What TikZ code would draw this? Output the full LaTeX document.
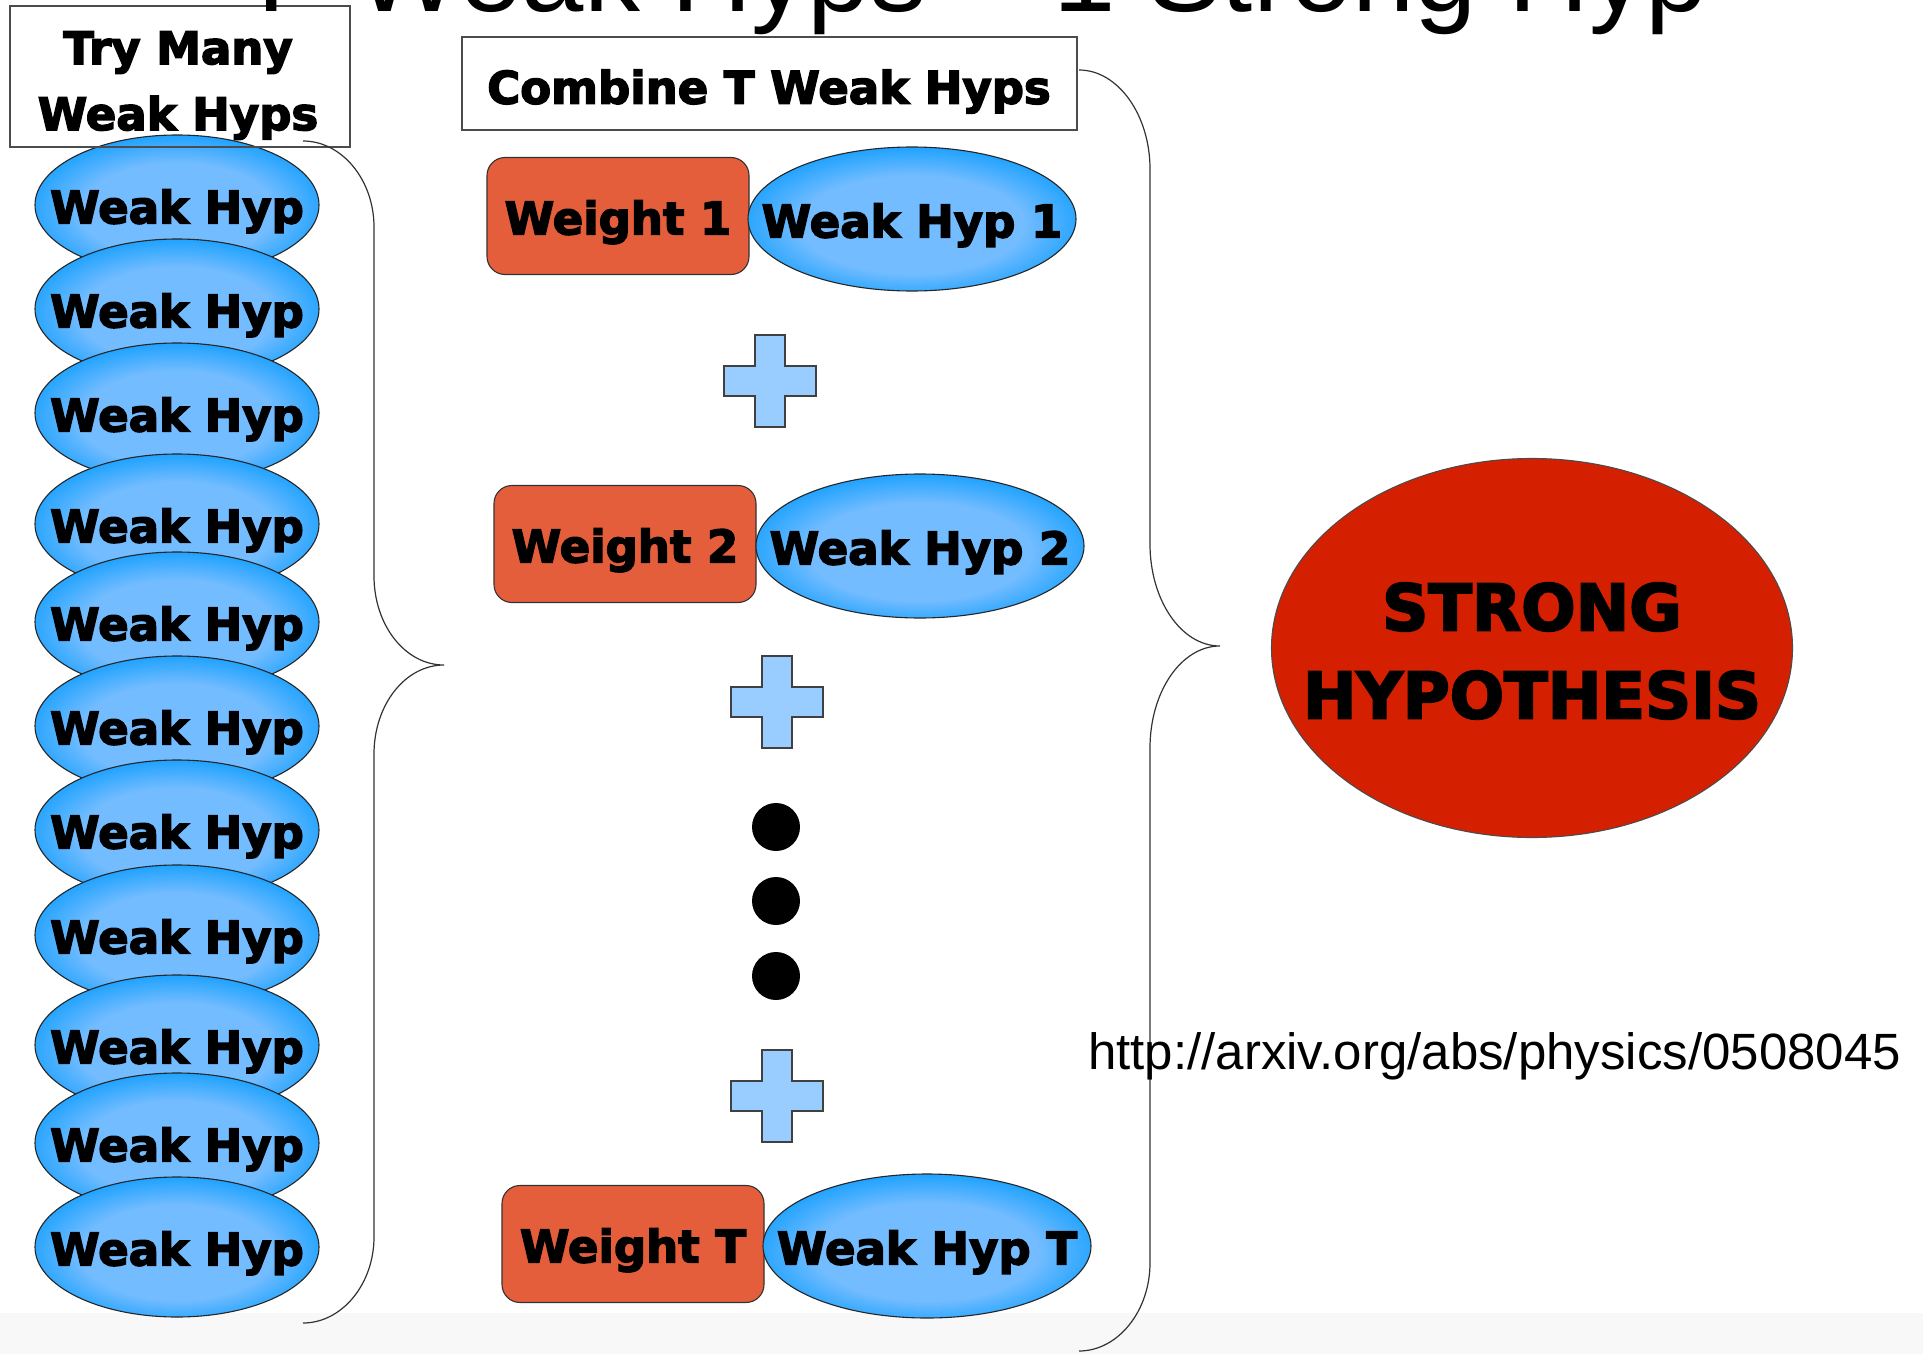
\documentclass[tikz,border=0pt]{standalone}
\usepackage{fontspec}
\setmainfont{Liberation Sans}
\newfontfamily\heavy{DejaVu Sans}[BoldFeatures={FakeBold=3.2}]
\usetikzlibrary{shapes.geometric}
\definecolor{hypblue}{RGB}{0,153,255}
\definecolor{hyplight}{RGB}{115,188,255}
\definecolor{wtred}{RGB}{229,94,59}
\definecolor{strongred}{RGB}{212,32,0}
\definecolor{plusblue}{RGB}{153,204,255}
\definecolor{bandgray}{RGB}{248,248,248}
\pgfdeclareradialshading{hypglow}{\pgfpoint{0bp}{-3bp}}{color(0bp)=(hyplight); color(17bp)=(hyplight); color(30bp)=(hypblue); color(50bp)=(hypblue)}
\newcommand\hypfont{\heavy\bfseries\fontsize{45}{66}\selectfont}
\newcommand\ctext[1]{\makebox[0pt]{\raisebox{-0.41em}[0pt][0pt]{#1}}}
\tikzset{
  lefthyp/.style={ellipse, draw=black!85, line width=1.1pt, shading=hypglow,
    minimum width=284pt, minimum height=140pt, inner sep=0pt, font=\hypfont},
  midhyp/.style={ellipse, draw=black!85, line width=1.1pt, shading=hypglow,
    minimum width=328pt, minimum height=144pt, inner sep=0pt, font=\hypfont},
  weightbox/.style={rectangle, rounded corners=18pt, draw=black!80, line width=1.1pt,
    fill=wtred, minimum width=262pt, minimum height=117pt, inner sep=0pt, font=\hypfont},
  labelbox/.style={rectangle, draw=black!70, line width=1.2pt, inner sep=0pt},
  labeltext/.style={inner sep=0pt, align=center, font=\hypfont},
  bracepath/.style={draw=black!80, line width=1.2pt},
  dotmark/.style={fill=black},
  plussign/.pic={\path[draw=black!75, fill=plusblue, line width=1.2pt]
    (-46,-15) -- (-15,-15) -- (-15,-46) -- (15,-46) -- (15,-15) -- (46,-15)
    -- (46,15) -- (15,15) -- (15,46) -- (-15,46) -- (-15,15) -- (-46,15) -- cycle;}
}
\begin{document}
\begin{tikzpicture}[x=1pt,y=-1pt]
\useasboundingbox (0,0) rectangle (1923,1354);
\fill[white] (0,0) rectangle (1923,1354);
\fill[bandgray] (0,1313) rectangle (1923,1354);

% left column of weak hypotheses
\foreach \i/\yy in {1/205,2/309,3/413,4/524,5/622,6/726,7/830,8/935,9/1045,10/1143,11/1247}{
  \node[lefthyp] (L\i) at (177,\yy) {\ctext{Weak Hyp}};
}

% label boxes
\node[labelbox, minimum width=340pt, minimum height=141pt] (trybox) at (180,76.5) {};
\node[labeltext] (trytext) at (178,85.5) {Try Many\\Weak Hyps};
\node[labelbox, minimum width=615pt, minimum height=93pt] (combox) at (769.5,83.5) {};
\node[labeltext] (comtext) at (769,91.5) {Combine T Weak Hyps};

% title (cut off at the top)
\node[anchor=base west, inner sep=0pt, font=\fontsize{112}{112}\selectfont] (title) at (237,12) {T\hspace{19pt} Weak Hyps = 1 Strong Hyp};

% weighted weak hypotheses
\node[weightbox] (w1) at (618,216) {\ctext{Weight 1}};
\node[midhyp] (h1) at (912,219) {\ctext{Weak Hyp 1}};
\node[weightbox] (w2) at (625,544) {\ctext{Weight 2}};
\node[midhyp] (h2) at (920,546) {\ctext{Weak Hyp 2}};
\node[weightbox] (wT) at (633,1244) {\ctext{Weight T}};
\node[midhyp] (hT) at (927,1246) {\ctext{Weak Hyp T}};

% plus signs and dots
\pic (p1) at (770,381) {plussign};
\pic (p2) at (777,702) {plussign};
\pic (p3) at (777,1096) {plussign};
\fill[dotmark] (776,827) circle (24pt);
\fill[dotmark] (776,901) circle (24pt);
\fill[dotmark] (776,976) circle (24pt);

% braces
\coordinate (lb0) at (303,141);
\coordinate (lb1) at (374,227);
\coordinate (lb2) at (374,576);
\coordinate (lbt) at (444,665);
\coordinate (lb3) at (374,754);
\coordinate (lb4) at (374,1237);
\coordinate (lb5) at (303,1323);
\draw[bracepath] (lb0) .. controls (342,141) and (374,180) .. (lb1) -- (lb2)
  .. controls (374,625) and (405,665) .. (lbt)
  .. controls (405,665) and (374,705) .. (lb3) -- (lb4)
  .. controls (374,1284) and (342,1323) .. (lb5);
\coordinate (rb0) at (1079,70);
\coordinate (rb1) at (1150,169);
\coordinate (rb2) at (1150,544);
\coordinate (rbt) at (1220,646);
\coordinate (rb3) at (1150,748);
\coordinate (rb4) at (1150,1263);
\coordinate (rb5) at (1079,1351);
\draw[bracepath] (rb0) .. controls (1118,70) and (1150,115) .. (rb1) -- (rb2)
  .. controls (1150,600) and (1181,646) .. (rbt)
  .. controls (1181,646) and (1150,692) .. (rb3) -- (rb4)
  .. controls (1150,1311) and (1118,1351) .. (rb5);

% strong hypothesis
\node[ellipse, draw=black!70, line width=1.1pt, fill=strongred, minimum width=521pt,
  minimum height=379pt, inner sep=0pt] (strong) at (1532,648) {};
\node[inner sep=0pt, align=center, font=\heavy\bfseries\fontsize{64}{88}\selectfont] (strongtext) at (1532,651) {STRONG\\HYPOTHESIS};

% reference
\node[anchor=base west, inner sep=0pt, font=\fontsize{51}{51}\selectfont] (url) at (1088,1069) {http://arxiv.org/abs/physics/0508045};
\end{tikzpicture}
\end{document}
